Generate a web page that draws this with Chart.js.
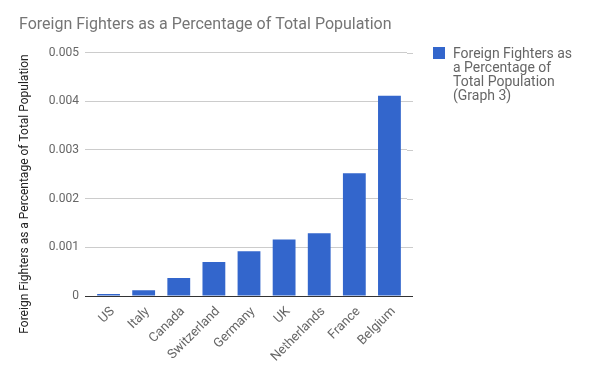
<!DOCTYPE html>
<html>
<head>
<meta charset="utf-8">
<script src="https://cdn.jsdelivr.net/npm/chart.js@4/dist/chart.umd.min.js"></script>
<style>
  html, body { margin: 0; padding: 0; background: #fff; }
  #wrap { position: relative; width: 600px; height: 371px; }
  #legend {
    position: absolute; left: 433px; top: 46px; width: 165px;
    font-family: Roboto, sans-serif; font-size: 14px; line-height: 14px; color: #666;
  }
  #legend .sw { position: absolute; left: 0; top: 1px; width: 12px; height: 12px; background: #3366cc; }
  #legend .txt { margin-left: 20px; }
</style>
</head>
<body>
<div id="wrap">
  <canvas id="chart" width="600" height="371"></canvas>
  <div id="legend"><span class="sw"></span><div class="txt">Foreign Fighters as<br>a Percentage of<br>Total Population<br>(Graph 3)</div></div>
</div>
<script>
const countries = ['US', 'Italy', 'Canada', 'Switzerland', 'Germany', 'UK', 'Netherlands', 'France', 'Belgium'];
const pctValues = [0.00004, 0.00012, 0.00037, 0.0007, 0.00092, 0.00116, 0.00129, 0.00252, 0.00411];
const yTicks    = [0, 0.001, 0.002, 0.003, 0.004, 0.005];

const chartTitle = 'Foreign Fighters as a Percentage of Total Population';
const yTitle     = 'Foreign Fighters as a Percentage of Total Population';

const FONT = 'Roboto, sans-serif';
const gridColor = v => v === 0 ? '#333333' : '#cccccc';

// grid lines in the reference run a little past the bars on the right
const gridExtend = {
  id: 'gridExtend',
  beforeDatasetsDraw(chart) {
    const { ctx, chartArea, scales: { y } } = chart;
    ctx.save();
    ctx.lineWidth = 1;
    y.ticks.forEach(t => {
      const py = Math.round(y.getPixelForValue(t.value)) + 0.5;
      ctx.strokeStyle = gridColor(t.value);
      ctx.beginPath();
      ctx.moveTo(chartArea.right, py);
      ctx.lineTo(chartArea.right + 6, py);
      ctx.stroke();
    });
    ctx.restore();
  }
};

// vertical axis title, placed like the original (a bit below the plot centre)
const yAxisTitle = {
  id: 'yAxisTitle',
  afterDraw(chart) {
    const { ctx } = chart;
    ctx.save();
    ctx.translate(25, 194);
    ctx.rotate(-Math.PI / 2);
    ctx.font = `12px ${FONT}`;
    ctx.fillStyle = '#222';
    ctx.textAlign = 'center';
    ctx.textBaseline = 'middle';
    ctx.fillText(yTitle, 0, 0);
    ctx.restore();
  }
};

new Chart(document.getElementById('chart'), {
  type: 'bar',
  data: {
    labels: countries,
    datasets: [{
      label: 'Foreign Fighters as a Percentage of Total Population (Graph 3)',
      data: pctValues,
      backgroundColor: '#3366cc',
      borderWidth: 0,
      barPercentage: 0.65,
      categoryPercentage: 1
    }]
  },
  options: {
    responsive: false,
    animation: false,
    layout: { padding: { left: 19, right: 193, top: 0, bottom: 0 } },
    plugins: {
      legend: { display: false },
      tooltip: { enabled: false },
      title: {
        display: true,
        text: chartTitle,
        align: 'start',
        color: '#757575',
        font: { family: FONT, size: 16, weight: 'normal' },
        padding: { top: 15.4, bottom: 17.9 }
      }
    },
    scales: {
      x: {
        grid: { display: false },
        border: { display: false },
        ticks: {
          color: '#666',
          font: { family: FONT, size: 13 },
          maxRotation: 45, minRotation: 45,
          padding: 0,
          labelOffset: 4
        },
        afterFit: s => { s.height = 75; }
      },
      y: {
        min: 0, max: 0.005,
        border: { display: false },
        grid: {
          color: c => gridColor(c.tick.value),
          tickLength: 6,
          drawTicks: true
        },
        afterBuildTicks: s => { s.ticks = yTicks.map(v => ({ value: v })); },
        ticks: {
          color: '#666',
          font: { family: FONT, size: 12 },
          padding: 6,
          callback: v => v === 0 ? '0' : v.toFixed(3)
        },
        afterFit: s => { s.width = 72; }
      }
    }
  },
  plugins: [gridExtend, yAxisTitle]
});
</script>
</body>
</html>
